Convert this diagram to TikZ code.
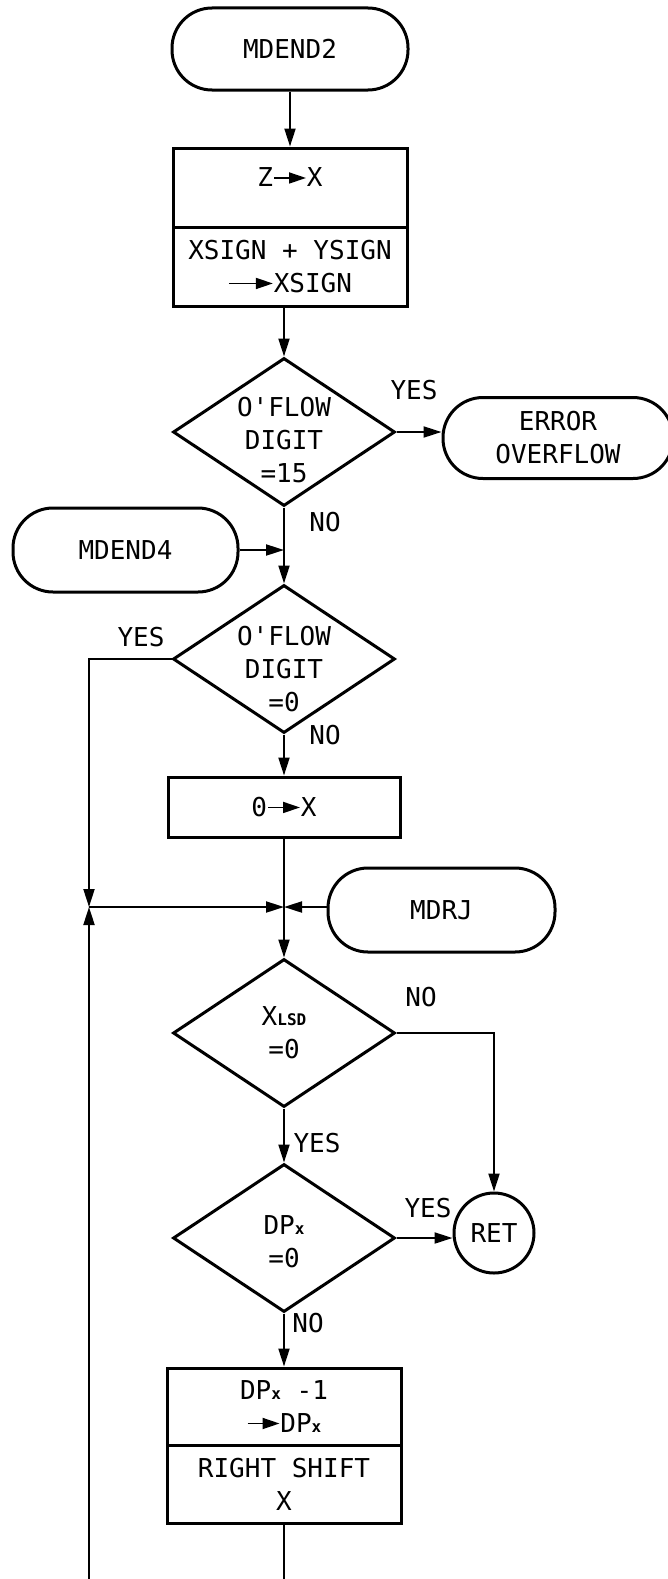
\documentclass[tikz,border=0pt]{standalone}
\usepackage{fontspec}
\usetikzlibrary{arrows.meta,shapes.geometric}
\newfontfamily\flowfont{DejaVu Sans Mono}
\newcommand{\lowsub}[1]{{\fontsize{16}{16}\selectfont\bfseries #1}}
\newcommand{\tto}[1][32pt]{\tikz[baseline=0pt]\draw[line width=1.8pt,-{Triangle[length=17pt,width=11pt]}] (0,9pt) -- (#1,9pt);}

\begin{document}
\begin{tikzpicture}[x=1pt,y=-1pt,font=\flowfont\fontsize{26}{33}\selectfont,
    term/.style={draw,line width=3pt,rounded corners=40pt,minimum height=82pt,align=center,inner sep=0pt},
    procbox/.style={draw,line width=3pt,minimum width=234pt,align=center,inner sep=0pt},
    decide/.style={draw,diamond,line width=3pt,minimum width=222pt,minimum height=148pt,inner sep=0pt},
    flow/.style={line width=2pt,-{Triangle[length=18pt,width=11pt]}}]
    \useasboundingbox (0,0) rectangle (667,1579);

    \node[term,minimum width=236pt] (start) at (290,49) {MDEND2};
    \node[procbox,minimum height=79pt,label={[yshift=10pt]center:Z\tto X}] (zx) at (290,187.5) {};
    \node[procbox,minimum height=79pt] (sgn) at (290,266.5) {XSIGN + YSIGN\\\tto[44pt]XSIGN};
    \node[decide,label={[align=center,yshift=-8pt]center:O'FLOW\\DIGIT\\=15}] (ov15) at (284,432) {};
    \node[term,minimum width=230pt,minimum height=81pt] (err) at (558,438) {ERROR\\OVERFLOW};
    \node[term,minimum width=225pt,minimum height=84pt] (md4) at (125.5,550) {MDEND4};
    \node[decide,label={[align=center,yshift=-10pt]center:O'FLOW\\DIGIT\\=0}] (ov0) at (284,659) {};
    \node[procbox,minimum width=232pt,minimum height=60pt] (clr) at (284,807) {0\tto X};
    \node[term,minimum width=227pt,minimum height=84pt] (mdrj) at (441.5,910) {MDRJ};
    \node[decide,label={[align=center]center:X\lowsub{LSD}\\=0}] (lsd) at (284,1033) {};
    \node[decide,label={[align=center,yshift=-4pt]center:DP\lowsub{x}\\=0}] (dpz) at (284,1238) {};
    \node[draw,circle,line width=3pt,minimum size=80pt,inner sep=0pt] (ret) at (494,1233) {RET};
    \node[procbox,minimum height=77pt] (dec) at (284,1406.5) {DP\lowsub{x} -1\\\tto DP\lowsub{x}};
    \node[procbox,minimum height=78pt] (shf) at (284,1484) {RIGHT SHIFT\\X};

    \node (y1) at (414,390) {YES};
    \node (n1) at (325,522) {NO};
    \node (y2) at (141,637) {YES};
    \node (n2) at (325,735) {NO};
    \node (n3) at (421,997) {NO};
    \node (y3) at (317,1143) {YES};
    \node (y4) at (428,1208) {YES};
    \node (n4) at (308,1323) {NO};

    \coordinate (lj) at (89,907);
    \coordinate (j2) at (284,907);
    \coordinate (lb) at (89,1579);
    \coordinate (rb) at (284,1579);

    \draw[flow] (start) -- (zx);
    \draw[flow] (sgn.south -| ov15) -- (ov15);
    \draw[flow] (ov15) -- (ov15 -| err.west);
    \draw[flow] (ov15) -- (ov0);
    \draw[flow] (md4) -- (md4 -| ov0);
    \draw[flow] (ov0.west) -| (lj);
    \draw[flow] (lb) -- (lj);
    \draw[flow] (lj) -- (j2);
    \draw[flow] (ov0) -- (clr);
    \draw[line width=2pt] (clr) -- (j2);
    \draw[flow] (mdrj.west |- j2) -- (j2);
    \draw[flow] (j2) -- (lsd);
    \draw[flow] (lsd.east) -| (ret);
    \draw[flow] (lsd) -- (dpz);
    \draw[flow] (dpz.east) -- (dpz.east -| ret.west);
    \draw[flow] (dpz) -- (dec);
    \draw[line width=2pt] (shf) -- (rb);
\end{tikzpicture}
\end{document}
